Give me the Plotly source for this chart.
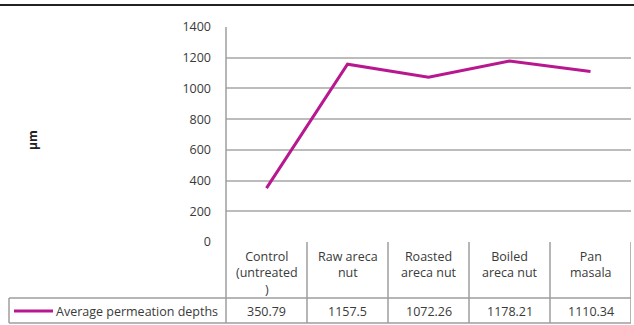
import plotly.graph_objects as go

categories = ["Control<br>(untreated<br>)", "Raw areca<br>nut", "Roasted<br>areca nut", "Boiled<br>areca nut", "Pan<br>masala"]
values = [350.79, 1157.5, 1072.26, 1178.21, 1110.34]
value_labels = ["350.79", "1157.5", "1072.26", "1178.21", "1110.34"]
series_name = "Average permeation depths"
y_ticks = [0, 200, 400, 600, 800, 1000, 1200, 1400]

W, H = 634, 325
L, R, T, B = 226, 3, 27, 83
PW, PH = W - L - R, H - T - B

LINE_COLOR = "#b8188f"
GRID = "#bcbcbc"
TBL = "#9e9e9e"
FONT = "Open Sans"
FS = 12.5
TXT = "#3a3a3a"

def px_to_py(y):  # pixel y (from top) -> paper y
    return (H - B - y) / PH

def px_to_px(x):  # pixel x -> paper x
    return (x - L) / PW

xs = list(range(len(categories)))

fig = go.Figure()
fig.add_trace(go.Scatter(x=xs, y=values, mode="lines", name=series_name,
                         line=dict(color=LINE_COLOR, width=3), showlegend=False))

shapes = []
# top black rule
shapes.append(dict(type="line", xref="paper", yref="paper", layer="above",
                   x0=px_to_px(0), x1=px_to_px(W), y0=px_to_py(5), y1=px_to_py(5),
                   line=dict(color="#222222", width=2)))
# left axis line extended through table
shapes.append(dict(type="line", xref="paper", yref="paper",
                   x0=0, x1=0, y0=px_to_py(323), y1=1, line=dict(color=TBL, width=1.5)))
# table horizontal lines
for yy, x0 in [(298, 9), (323, 9)]:
    shapes.append(dict(type="line", xref="paper", yref="paper",
                       x0=px_to_px(x0), x1=1, y0=px_to_py(yy), y1=px_to_py(yy),
                       line=dict(color=TBL, width=1.5)))
# legend cell left border
shapes.append(dict(type="line", xref="paper", yref="paper",
                   x0=px_to_px(9), x1=px_to_px(9), y0=px_to_py(298), y1=px_to_py(323),
                   line=dict(color=TBL, width=1.5)))
# category cell separators
for i in range(len(categories)):
    shapes.append(dict(type="line", xref="x", yref="paper",
                       x0=i + 0.5, x1=i + 0.5, y0=px_to_py(323), y1=0,
                       line=dict(color=TBL, width=1.5)))
# legend sample line
shapes.append(dict(type="line", xref="paper", yref="paper",
                   x0=px_to_px(14), x1=px_to_px(53), y0=px_to_py(311), y1=px_to_py(311),
                   line=dict(color=LINE_COLOR, width=3)))

annotations = []
for i, (c, v) in enumerate(zip(categories, value_labels)):
    annotations.append(dict(x=i, y=px_to_py(246), xref="x", yref="paper", text=c,
                            showarrow=False, yanchor="top", xanchor="center",
                            font=dict(family=FONT, size=FS, color=TXT)))
    annotations.append(dict(x=i, y=px_to_py(311), xref="x", yref="paper", text=v,
                            showarrow=False, yanchor="middle", xanchor="center",
                            font=dict(family=FONT, size=FS, color=TXT)))
annotations.append(dict(x=px_to_px(54), y=px_to_py(311), xref="paper", yref="paper",
                        text=series_name, showarrow=False, xanchor="left", yanchor="middle",
                        font=dict(family=FONT, size=FS, color=TXT)))
annotations.append(dict(x=px_to_px(32), y=px_to_py(140), xref="paper", yref="paper",
                        text="<b>μm</b>", showarrow=False, textangle=-90,
                        xanchor="center", yanchor="middle",
                        font=dict(family=FONT, size=12, color="#222222")))

fig.update_layout(
    width=W, height=H,
    margin=dict(l=L, r=R, t=T, b=B, pad=0),
    paper_bgcolor="white", plot_bgcolor="white",
    shapes=shapes, annotations=annotations,
    xaxis=dict(range=[-0.5, 4.5], showgrid=False, showticklabels=False,
               zeroline=False, showline=False, fixedrange=True),
    yaxis=dict(range=[0, 1400], tickvals=y_ticks, showgrid=True, gridcolor=GRID,
               gridwidth=1.5, zeroline=False, showline=False,
               ticks="", ticklen=0, ticklabelstandoff=14,
               tickfont=dict(family=FONT, size=FS, color=TXT)),
    font=dict(family=FONT),
)

fig.write_html("out.html", config={"displayModeBar": False},
               post_script="document.body.style.margin='0';document.body.style.overflow='hidden';")
